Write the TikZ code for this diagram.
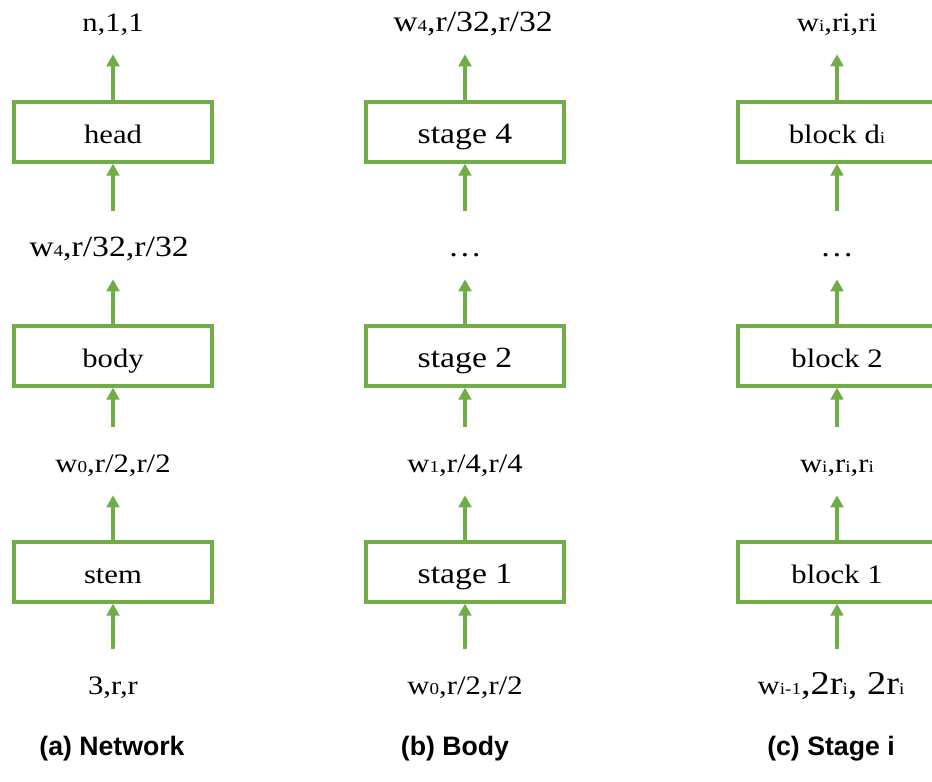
\documentclass[tikz,border=0pt]{standalone}
\usepackage{fontspec}
\setmainfont{Liberation Serif}[FakeStretch=1.15]
\newfontfamily\capfont{Liberation Sans}
\usetikzlibrary{arrows.meta}
\definecolor{grn}{HTML}{70AD47}
\newcommand\smallsub[1]{{\fontsize{12.5}{12.5}\selectfont #1}}
\newcommand\bigtxt[1]{{\fontsize{25}{25}\selectfont #1}}
\begin{document}
\begin{tikzpicture}[x=0.75pt,y=-0.75pt,font=\fontsize{20}{24}\selectfont,
  box/.style={draw=grn, line width=3pt, minimum width=148.5pt, minimum height=44.5pt, inner sep=0pt, text height=18pt, text depth=1.5pt},
  lbl/.style={anchor=base, inner sep=0pt, text height=33.75pt, text depth=17.25pt},
  larger/.style={font=\fontsize{22}{26}\selectfont},
  arr/.style={draw=grn, line width=3pt, -{Triangle[length=9pt,width=9.5pt]}},
  captext/.style={anchor=base, inner sep=0pt, font=\capfont\bfseries\fontsize{20}{24}\selectfont}]
\useasboundingbox (0,0) rectangle (932,782);
\clip (0,0) rectangle (932,782);
% column a
\node[box] (head) at (113,132) {head};
\node[box] (body) at (113,356) {body};
\node[box] (stem) at (113,572) {stem};
\node[lbl] (a1) at (113,31) {n,1,1};
\node[lbl, larger] (a2) at (109,256) {w\smallsub{4},r/32,r/32};
\node[lbl] (a3) at (113,472) {w\smallsub{0},r/2,r/2};
\node[lbl] (a4) at (113,694) {3,r,r};
\draw[arr] (head) -- (a1.south -| head.north);
\draw[arr] (a2.north -| head.south) -- (head);
\draw[arr] (body) -- (a2.south -| body.north);
\draw[arr] (a3) -- (body);
\draw[arr] (stem) -- (a3);
\draw[arr] (a4) -- (stem);
% column b
\node[box, larger] (s4) at (465,132) {stage 4};
\node[box, larger] (s2) at (465,356) {stage 2};
\node[box, larger] (s1) at (465,572) {stage 1};
\node[lbl, larger] (b1) at (473,31) {w\smallsub{4},r/32,r/32};
\node[lbl, larger] (b2) at (465,256) {…};
\node[lbl] (b3) at (465,472) {w\smallsub{1},r/4,r/4};
\node[lbl] (b4) at (465,694) {w\smallsub{0},r/2,r/2};
\draw[arr] (s4) -- (b1.south -| s4.north);
\draw[arr] (b2) -- (s4);
\draw[arr] (s2) -- (b2);
\draw[arr] (b3) -- (s2);
\draw[arr] (s1) -- (b3);
\draw[arr] (b4) -- (s1);
% column c
\node[box] (bd) at (837,132) {block d\smallsub{i}};
\node[box] (bk2) at (837,356) {block 2};
\node[box] (bk1) at (837,572) {block 1};
\node[lbl] (c1) at (837,31) {w\smallsub{i},ri,ri};
\node[lbl, larger] (c2) at (837,256) {…};
\node[lbl] (c3) at (837,472) {w\smallsub{i},r\smallsub{i},r\smallsub{i}};
\node[lbl] (c4) at (831,694) {w\smallsub{i-1}\bigtxt{,2r}\smallsub{i}\bigtxt{, 2r}\smallsub{i}};
\draw[arr] (bd) -- (c1);
\draw[arr] (c2) -- (bd);
\draw[arr] (bk2) -- (c2);
\draw[arr] (c3) -- (bk2);
\draw[arr] (bk1) -- (c3);
\draw[arr] (c4.north -| bk1.south) -- (bk1);
% captions
\node[captext] (capa) at (112,755) {(a) Network};
\node[captext] (capb) at (455,755) {(b) Body};
\node[captext] (capc) at (831,755) {(c) Stage i};
\end{tikzpicture}
\end{document}
